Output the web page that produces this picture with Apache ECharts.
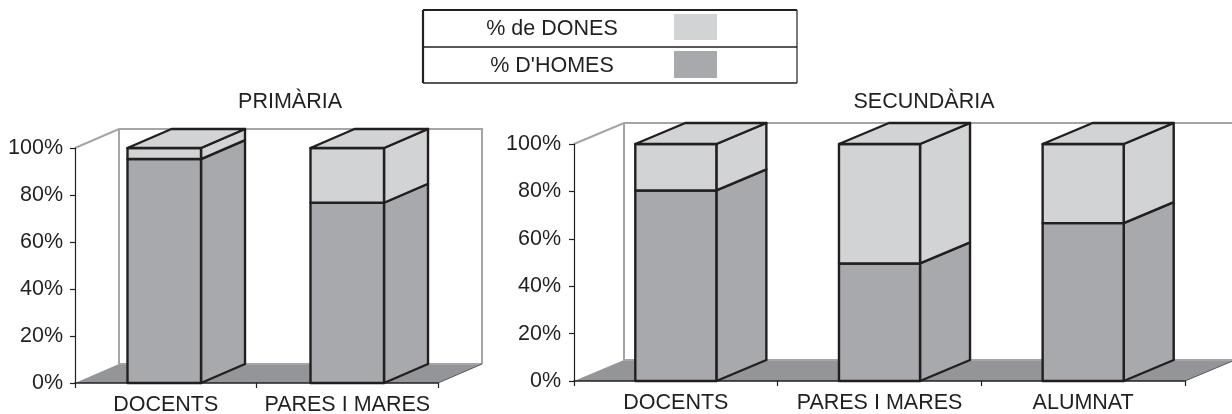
<!DOCTYPE html>
<html>
<head>
<meta charset="utf-8">
<style>html,body{margin:0;padding:0;background:#fff}#c{width:1232px;height:414px}</style>
<script src="https://cdn.jsdelivr.net/npm/echarts@6/dist/echarts.min.js"></script>
</head>
<body>
<div id="c"></div>
<script>
const seriesNames = ["% D'HOMES", "% de DONES"];
const primaryCategories = ["DOCENTS", "PARES I MARES"];
const primaryMen = [95.3, 76.7];
const primaryWomen = [4.7, 23.3];
const secondaryCategories = ["DOCENTS", "PARES I MARES", "ALUMNAT"];
const secondaryMen = [80.4, 49.6, 66.6];
const secondaryWomen = [19.6, 50.4, 33.4];
const chartTitles = ["PRIMÀRIA", "SECUNDÀRIA"];

const INK = '#231f20', MEN = '#a7a9ac', WOMEN = '#d1d3d4', FLOOR = '#939598', WALL = '#a3a5a8';
const FONT = '"Liberation Sans", Arial, sans-serif', FS = 21.5;
const panels = [
  {grid:{left:75, top:148, width:363, height:235, outerBoundsMode:'none'}, depth:[44,19], ratio:0.405, cats:primaryCategories, men:primaryMen, women:primaryWomen},
  {grid:{left:574, top:144, width:611, height:237, outerBoundsMode:'none'}, depth:[50,21], ratio:0.398, cats:secondaryCategories, men:secondaryMen, women:secondaryWomen}
];

function wallRender(depth){
  return function(params, api){
    const cs = params.coordSys;
    const [dx, dy] = depth;
    const x0 = cs.x, x1 = cs.x + cs.width, yT = cs.y, yB = cs.y + cs.height;
    const line = (pts, color, w) => ({type:'polyline', shape:{points:pts}, style:{fill:null, stroke:color, lineWidth:w}});
    return {type:'group', children:[
      {type:'polygon', shape:{points:[[x0,yB],[x1,yB],[x1+dx,yB-dy],[x0+dx,yB-dy]]}, style:{fill:FLOOR, stroke:null}},
      line([[x0,yT],[x0+dx,yT-dy],[x1+dx,yT-dy],[x1+dx,yB-dy]], WALL, 2),
      line([[x0+dx,yT-dy],[x0+dx,yB-dy],[x1+dx,yB-dy]], WALL, 2),
      line([[x1,yB],[x1+dx,yB-dy]], '#55565a', 1)
    ]};
  };
}
function barRender(depth, ratio, color, withTop){
  return function(params, api){
    const [dx, dy] = depth;
    const i = api.value(0), lo = api.value(1), hi = api.value(2);
    const w = api.size([1,0])[0] * ratio;
    const pL = api.coord([i, lo]), pH = api.coord([i, hi]);
    const xl = pL[0] - w/2 - (params.coordSys.width < 400 && i === 0 ? 1.5 : 0);
    const xr = xl + w, yb = pL[1], yt = pH[1];
    const st = {fill:color, stroke:INK, lineWidth:2.4, lineJoin:'round'};
    const kids = [
      {type:'polygon', shape:{points:[[xr,yb],[xr+dx,yb-dy],[xr+dx,yt-dy],[xr,yt]]}, style:st},
      {type:'rect', shape:{x:xl, y:yt, width:w, height:yb-yt}, style:st}
    ];
    if (withTop) kids.push({type:'polygon', shape:{points:[[xl,yt],[xl+dx,yt-dy],[xr+dx,yt-dy],[xr,yt]]}, style:st});
    return {type:'group', children:kids};
  };
}

const grids = [], xAxes = [], yAxes = [], series = [];
panels.forEach((p, k) => {
  grids.push(p.grid);
  xAxes.push({type:'category', gridIndex:k, data:p.cats, z:5,
    axisLine:{show:true, lineStyle:{color:INK, width:1.5}},
    axisTick:{show:true, length:5, alignWithLabel:false, lineStyle:{color:INK, width:1.2}},
    axisLabel:{color:INK, fontFamily:FONT, fontSize:FS, margin:11, interval:0},
    splitLine:{show:false}});
  yAxes.push({type:'value', gridIndex:k, min:0, max:100, interval:20, z:5,
    axisLine:{show:true, lineStyle:{color:INK, width:1.2}},
    axisTick:{show:true, length:5, lineStyle:{color:INK, width:1.2}},
    axisLabel:{color:INK, fontFamily:FONT, fontSize:FS, margin:k === 0 ? 12 : 13, formatter:'{value}%'},
    splitLine:{show:false}});
  series.push({type:'custom', xAxisIndex:k, yAxisIndex:k, silent:true, z:1, clip:false,
    renderItem:wallRender(p.depth), data:[[0,0,100]], encode:{x:0,y:[1,2]}});
  series.push({type:'custom', name:seriesNames[0], xAxisIndex:k, yAxisIndex:k, z:2, clip:false,
    renderItem:barRender(p.depth, p.ratio, MEN, false),
    data:p.men.map((v,i)=>[i,0,v]), encode:{x:0,y:[1,2]}});
  series.push({type:'custom', name:seriesNames[1], xAxisIndex:k, yAxisIndex:k, z:3, clip:false,
    renderItem:barRender(p.depth, p.ratio, WOMEN, true),
    data:p.women.map((v,i)=>[i,p.men[i],p.men[i]+v]), encode:{x:0,y:[1,2]}});
});

const legendText = (t, y) => ({type:'text', style:{text:t, x:552, y:y, fill:INK, font:FS+'px '+FONT, textAlign:'center', textVerticalAlign:'middle'}});
const rule = (x1,y1,x2,y2,w) => ({type:'line', shape:{x1,y1,x2,y2}, style:{stroke:INK, lineWidth:w}});
const chart = echarts.init(document.getElementById('c'), null, {renderer:'canvas'});
chart.setOption({
  animation:false,
  backgroundColor:'#fff',
  textStyle:{fontFamily:FONT},
  title:[
    {text:chartTitles[0], left:285, top:86, textAlign:'center', textStyle:{color:INK, fontFamily:FONT, fontSize:FS, fontWeight:'normal'}},
    {text:chartTitles[1], left:919, top:86, textAlign:'center', textStyle:{color:INK, fontFamily:FONT, fontSize:FS, fontWeight:'normal'}}
  ],
  grid:grids, xAxis:xAxes, yAxis:yAxes, series:series,
  graphic:[
    rule(423,10,797,10,1.8), rule(423,47,797,47,1.5), rule(423,83,797,83,1.5),
    rule(423,10,423,83,2.2), rule(797,10,797,83,1.2),
    {type:'rect', shape:{x:674,y:14,width:43,height:26}, style:{fill:WOMEN}},
    {type:'rect', shape:{x:674,y:51,width:43,height:27}, style:{fill:MEN}},
    legendText(seriesNames[1], 29),
    legendText(seriesNames[0], 66)
  ]
});
</script>
</body>
</html>
